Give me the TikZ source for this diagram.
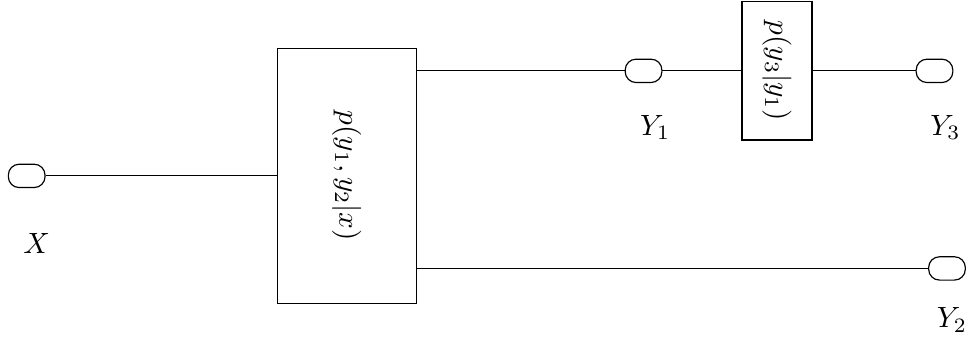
\documentclass[tikz,border=0pt]{standalone}
\usetikzlibrary{positioning}

\tikzset{
  terminal/.style={draw, rounded corners=0.13cm, minimum width=0.44cm, minimum height=0.28cm, inner sep=0pt},
  channel/.style={draw, inner sep=0pt}
}

\begin{document}
\begin{tikzpicture}
\useasboundingbox (0,0) rectangle (11.60,4.07);
% Boxes
\node[channel, minimum width=1.67cm, minimum height=3.06cm] (chanA) at (4.16,1.96) {\rotatebox{-90}{$p(y_1,y_2|x)$}};
\node[channel, minimum width=0.84cm, minimum height=1.66cm] (chanB) at (9.32,3.22) {\rotatebox{-90}{$p(y_3|y_1)$}};
% Terminals
\node[terminal] (X) at (0.32,1.96) {};
\node[terminal] (Y1) at (7.72,3.22) {};
\node[terminal] (Y3) at (11.21,3.22) {};
\node[terminal] (Y2) at (11.36,0.85) {};
% Labels
\node (labX) at (0.44,1.15) {$X$};
\node (labY1) at (7.86,2.54) {$Y_1$};
\node (labY3) at (11.34,2.54) {$Y_3$};
\node (labY2) at (11.42,0.23) {$Y_2$};
% Lines
\draw (X) -- (chanA.west);
\draw (chanA.east |- Y1) -- (Y1);
\draw (Y1) -- (chanB.west);
\draw (chanB.east) -- (Y3);
\draw (chanA.east |- Y2) -- (Y2);
\end{tikzpicture}
\end{document}
